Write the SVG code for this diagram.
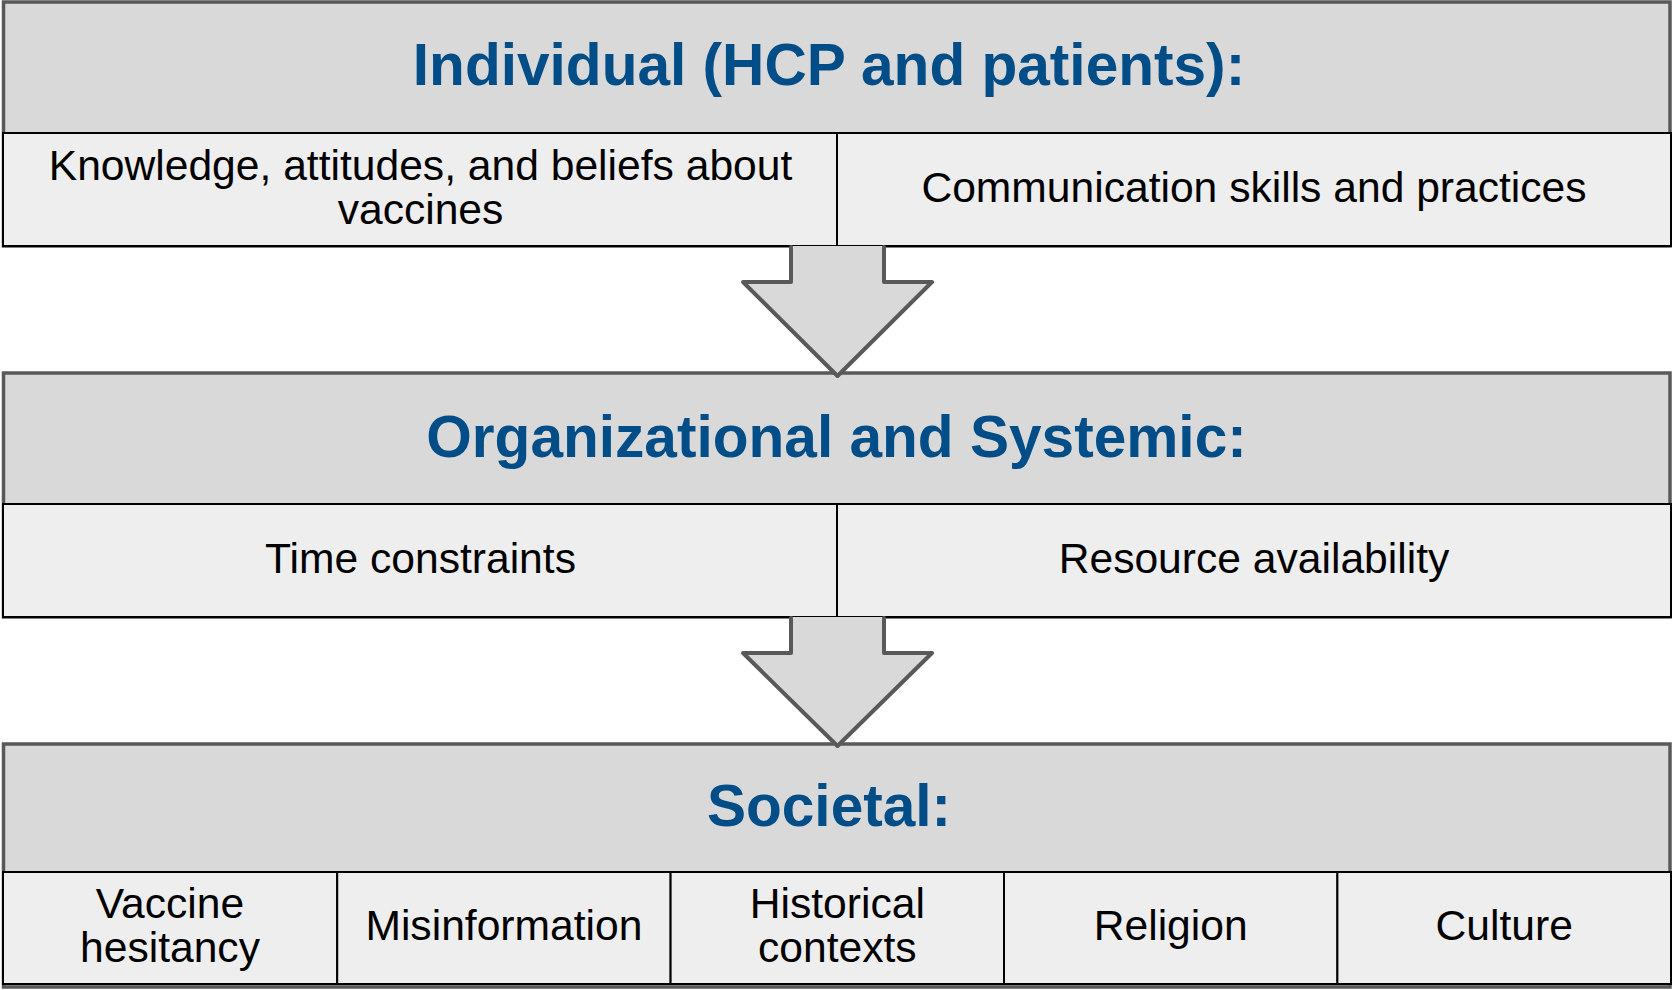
<svg xmlns="http://www.w3.org/2000/svg" width="1672" height="990" viewBox="0 0 1672 990">
  <style>
    .panel { fill: #d9d9d9; stroke: #595959; stroke-width: 3.5; }
    .cell { fill: #eeeeee; stroke: #000000; stroke-width: 2; }
    .title { font-family: "Liberation Sans", Arial, sans-serif; font-weight: bold; font-size: 58.6px; fill: #004d87; text-anchor: middle; }
    .label { font-family: "Liberation Sans", Arial, sans-serif; font-size: 42.6px; fill: #000000; text-anchor: middle; }
    .arrow-fill { fill: #d9d9d9; stroke: none; }
    .arrow-line { fill: none; stroke: #595959; stroke-width: 4; stroke-linejoin: round; stroke-linecap: round; }
  </style>

  <rect width="1672" height="990" fill="#ffffff"/>

  <!-- Level 1: individual -->
  <g id="individual">
    <rect class="panel" x="3.5" y="2" width="1666.5" height="244"/>
    <text class="title" x="829" y="85">Individual (HCP and patients):</text>
    <g id="knowledge">
      <rect class="cell" x="3" y="133" width="834" height="113"/>
      <text class="label" x="420.5" y="180">Knowledge, attitudes, and beliefs about</text>
      <text class="label" x="420.5" y="224">vaccines</text>
    </g>
    <g id="communication">
      <rect class="cell" x="837" y="133" width="834" height="113"/>
      <text class="label" x="1254" y="202">Communication skills and practices</text>
    </g>
  </g>

  <!-- Level 2: organizational and systemic -->
  <g id="organizational">
    <rect class="panel" x="3.5" y="373" width="1666.5" height="244"/>
    <text class="title" x="836.5" y="457">Organizational and Systemic:</text>
    <g id="time">
      <rect class="cell" x="3" y="504" width="834" height="113"/>
      <text class="label" x="420.5" y="573">Time constraints</text>
    </g>
    <g id="resources">
      <rect class="cell" x="837" y="504" width="834" height="113"/>
      <text class="label" x="1254" y="573">Resource availability</text>
    </g>
  </g>

  <!-- Level 3: societal -->
  <g id="societal">
    <rect class="panel" x="3.5" y="744" width="1666.5" height="243"/>
    <text class="title" x="829" y="826">Societal:</text>
    <g id="hesitancy">
      <rect class="cell" x="3" y="872" width="334.2" height="112"/>
      <text class="label" x="170" y="918">Vaccine</text>
      <text class="label" x="170" y="962">hesitancy</text>
    </g>
    <g id="misinformation">
      <rect class="cell" x="337.2" y="872" width="333.4" height="112"/>
      <text class="label" x="503.9" y="940">Misinformation</text>
    </g>
    <g id="history">
      <rect class="cell" x="670.6" y="872" width="333.4" height="112"/>
      <text class="label" x="837.3" y="918">Historical</text>
      <text class="label" x="837.3" y="962">contexts</text>
    </g>
    <g id="religion">
      <rect class="cell" x="1004" y="872" width="333.4" height="112"/>
      <text class="label" x="1170.7" y="940">Religion</text>
    </g>
    <g id="culture">
      <rect class="cell" x="1337.4" y="872" width="333.6" height="112"/>
      <text class="label" x="1504.2" y="940">Culture</text>
    </g>
  </g>

  <!-- Block arrows between levels -->
  <g id="connectors">
    <g id="arrow-1">
      <polygon class="arrow-fill" points="791,246 884,246 884,282 932,282 837.5,376 743,282 791,282"/>
      <polyline class="arrow-line" points="791,247 791,282 743,282 837.5,376 932,282 884,282 884,247"/>
    </g>
    <g id="arrow-2">
      <polygon class="arrow-fill" points="791,617 884,617 884,653 932,653 837.5,746 743,653 791,653"/>
      <polyline class="arrow-line" points="791,618 791,653 743,653 837.5,746 932,653 884,653 884,618"/>
    </g>
  </g>
</svg>
